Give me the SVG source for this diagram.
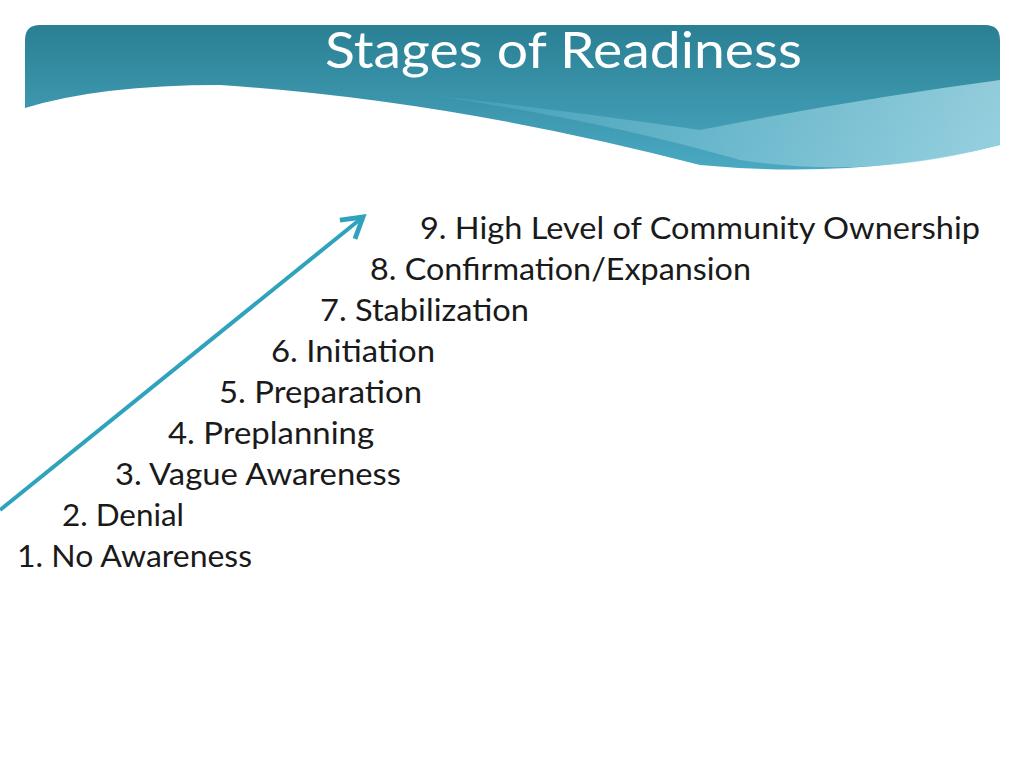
<svg xmlns="http://www.w3.org/2000/svg" width="1024" height="768" viewBox="0 0 1024 768">
<defs>
<linearGradient id="hg" x1="0" y1="0" x2="0" y2="1">
<stop offset="0" stop-color="#2a7f93"/>
<stop offset="1" stop-color="#4aa9c2"/>
</linearGradient>
<linearGradient id="wg" x1="0" y1="0" x2="1" y2="0">
<stop offset="0" stop-color="#3f9fb8"/>
<stop offset="1" stop-color="#a9dbe8"/>
</linearGradient>
<marker id="ah" markerWidth="8" markerHeight="8" refX="6" refY="4" orient="auto" markerUnits="strokeWidth">
<path d="M1,1 L6,4 L1,7" fill="none" stroke="#2fa3bc" stroke-width="1.2"/>
</marker>
<style>
.s{font-family:Lato,"Open Sans",sans-serif;font-size:30px;fill:#1a1a1a}
</style>
</defs>
<g id="header">
<path d="M25,40 Q25,25 40,25 L985,25 Q1000,25 1000,40 L1000,145 Q860,180 700,165 Q450,100 220,85 Q100,85 25,108 Z" fill="url(#hg)"/>
<path d="M430,95 Q600,120 740,160 Q870,180 1000,145 L1000,80 Q850,100 700,130 Q560,110 430,95 Z" fill="url(#wg)" opacity="0.8"/>
<text x="325" y="68" textLength="477" lengthAdjust="spacingAndGlyphs" font-family="Lato,'Open Sans',sans-serif" font-size="50" fill="#ffffff">Stages of Readiness</text>
</g>
<g id="connectors">
<line x1="0" y1="510" x2="363" y2="217" stroke="#2fa3bc" stroke-width="4" marker-end="url(#ah)"/>
</g>
<g id="n9"><text class="s" x="420" y="239" textLength="560" lengthAdjust="spacingAndGlyphs">9. High Level of Community Ownership</text></g>
<g id="n8"><text class="s" x="370" y="280" textLength="381" lengthAdjust="spacingAndGlyphs">8. Confirmation/Expansion</text></g>
<g id="n7"><text class="s" x="320" y="321" textLength="209" lengthAdjust="spacingAndGlyphs">7. Stabilization</text></g>
<g id="n6"><text class="s" x="271" y="362" textLength="164" lengthAdjust="spacingAndGlyphs">6. Initiation</text></g>
<g id="n5"><text class="s" x="219" y="403" textLength="203" lengthAdjust="spacingAndGlyphs">5. Preparation</text></g>
<g id="n4"><text class="s" x="168" y="444" textLength="206" lengthAdjust="spacingAndGlyphs">4. Preplanning</text></g>
<g id="n3"><text class="s" x="115" y="485" textLength="286" lengthAdjust="spacingAndGlyphs">3. Vague Awareness</text></g>
<g id="n2"><text class="s" x="62" y="526" textLength="122" lengthAdjust="spacingAndGlyphs">2. Denial</text></g>
<g id="n1"><text class="s" x="17" y="567" textLength="235" lengthAdjust="spacingAndGlyphs">1. No Awareness</text></g>
</svg>
